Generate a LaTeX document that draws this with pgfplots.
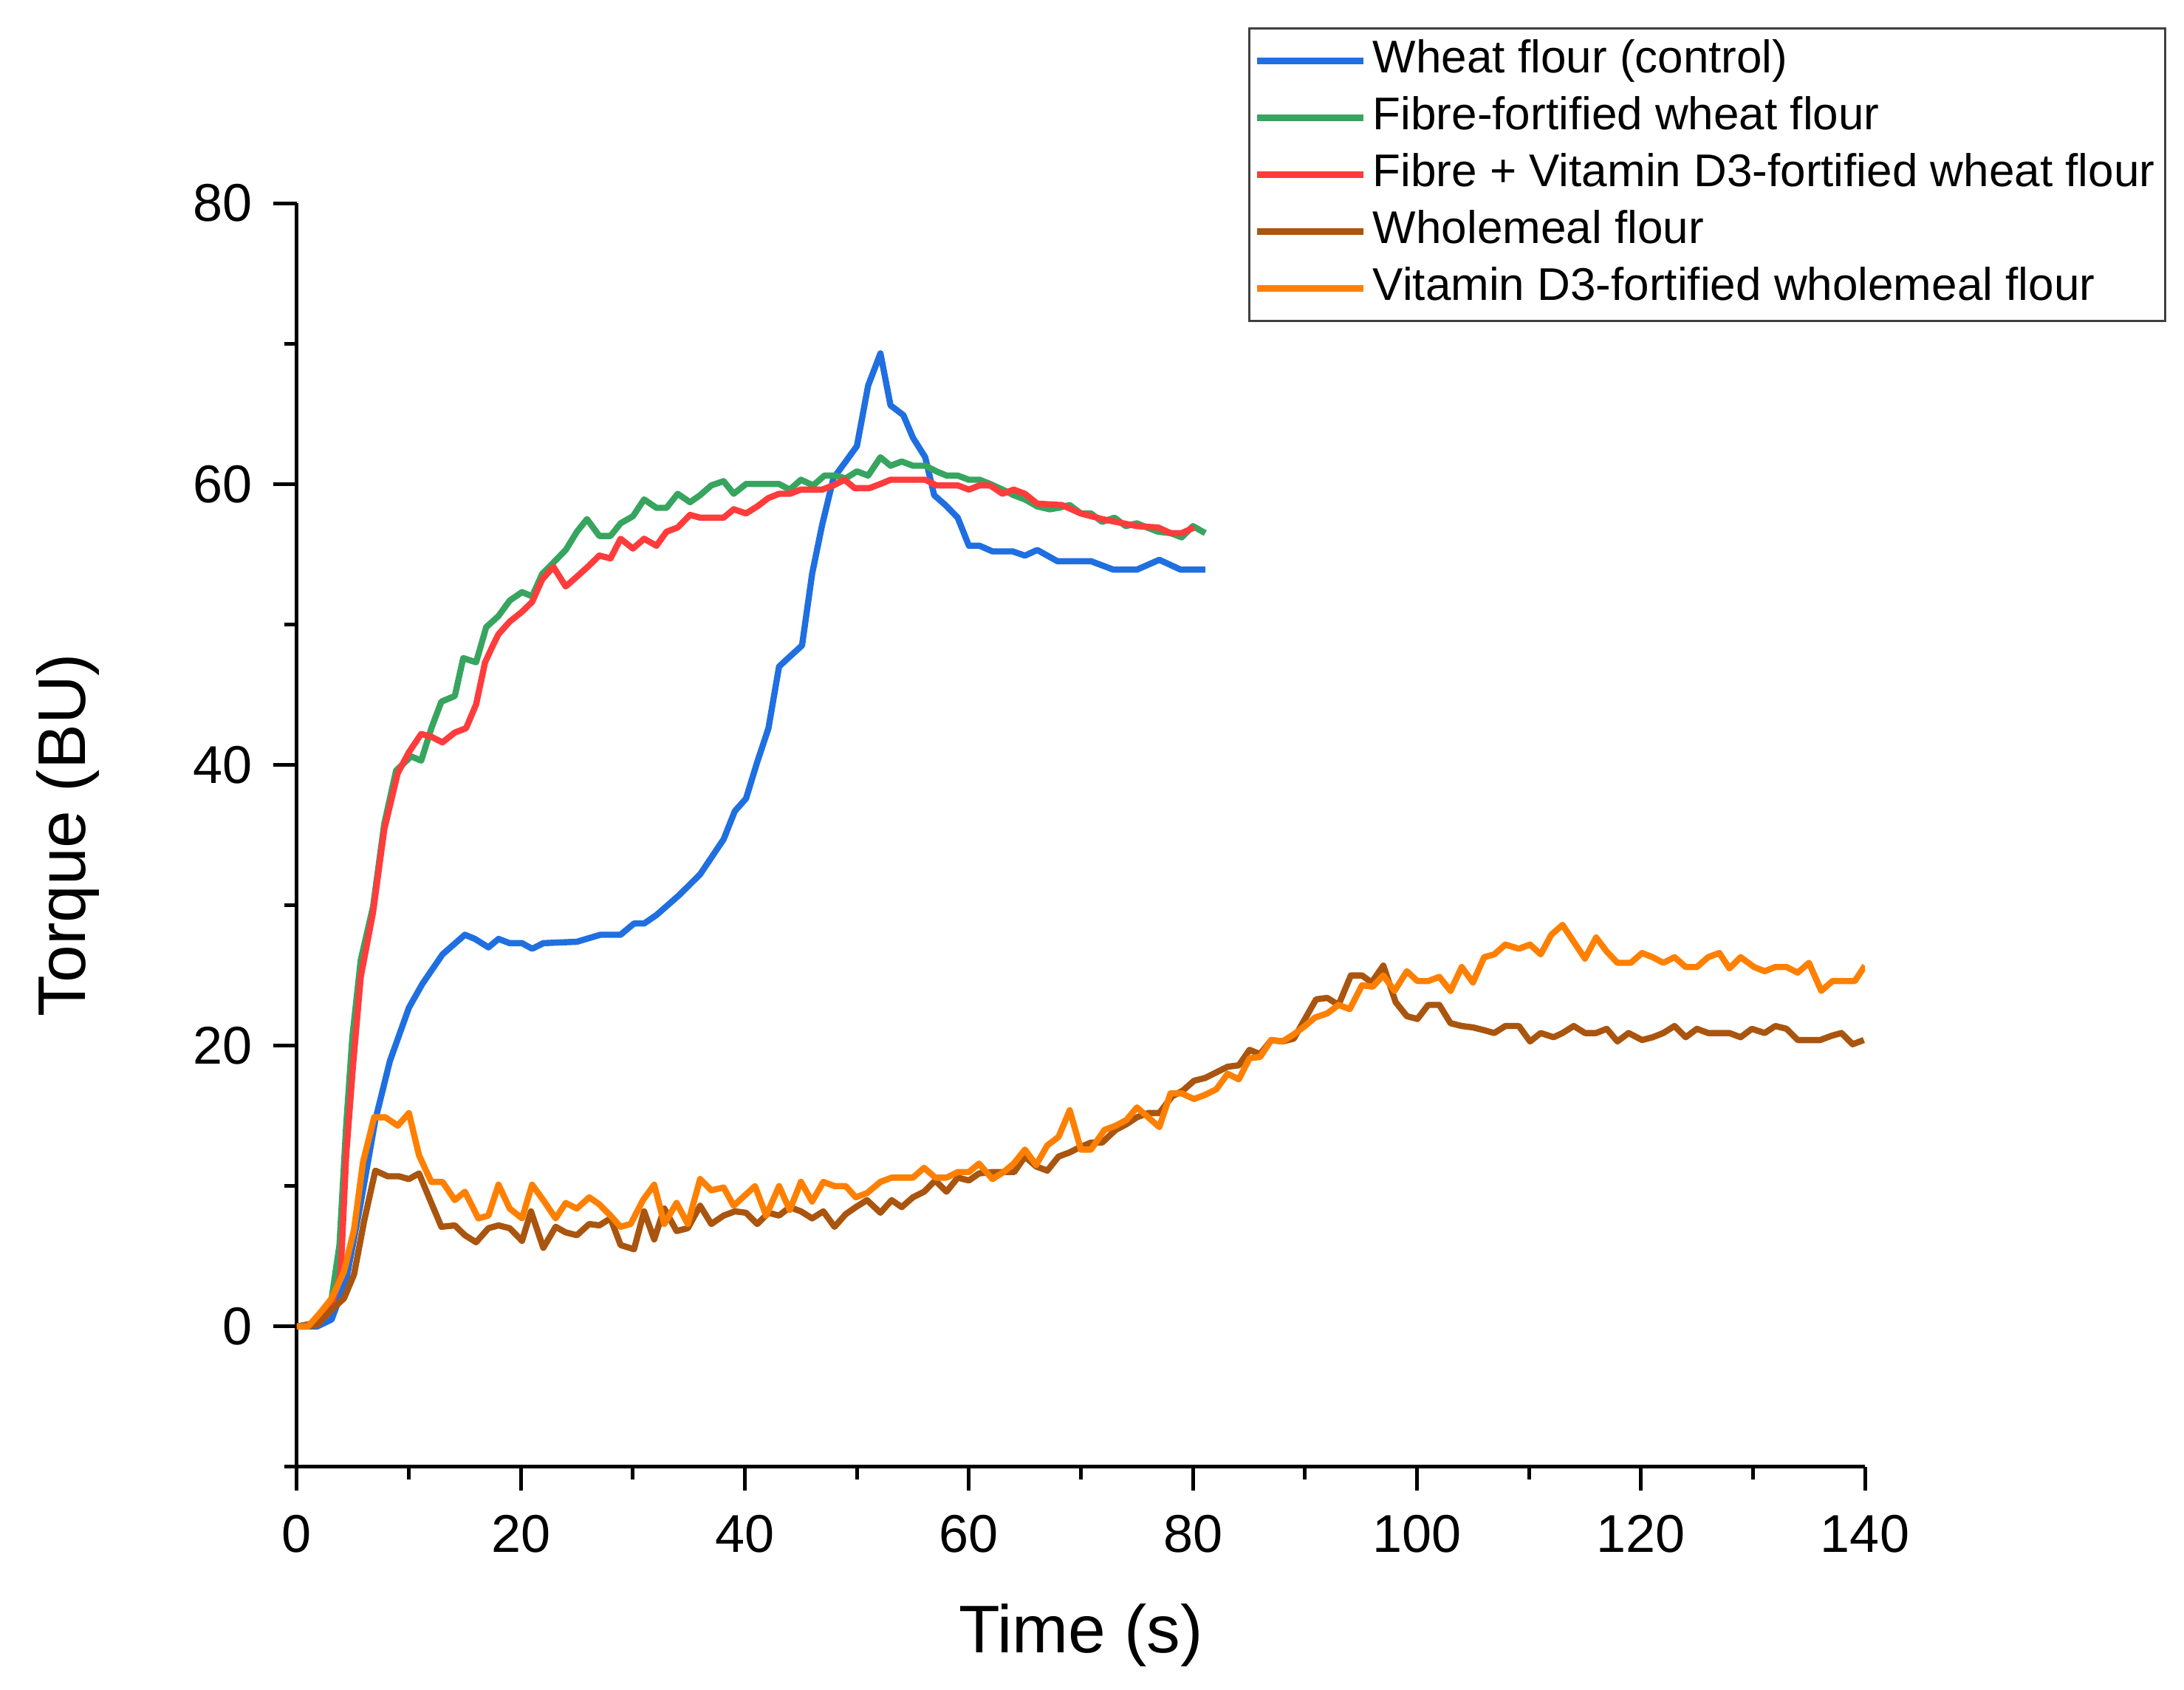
\documentclass[border=0pt]{standalone}
\usepackage{fontspec}
\setmainfont{Liberation Sans}
\usepackage{pgfplots}
\usepackage{pgfplotstable}
\pgfplotsset{compat=1.18}
\definecolor{cblue}{RGB}{31,111,225}
\definecolor{cgreen}{RGB}{55,165,95}
\definecolor{cred}{RGB}{255,60,60}
\definecolor{cbrown}{RGB}{170,85,15}
\definecolor{corange}{RGB}{255,128,0}

\pgfplotstableread{
t v
0 0
1.8 0
3.1 0.5
4.4 3.3
5.7 8.8
7.0 14.7
8.3 18.9
10.0 22.7
11.2 24.4
13.0 26.5
15.0 27.9
15.9 27.6
17.1 27.0
18.0 27.6
19.0 27.3
20.1 27.3
21.0 26.9
22.0 27.3
25.0 27.4
27.1 27.9
28.9 27.9
30.1 28.7
31.0 28.7
32.1 29.3
34.1 30.7
36.0 32.2
38.1 34.7
39.1 36.7
40.1 37.6
41.1 40.2
42.1 42.6
43.05 47.0
44.0 47.7
45.1 48.5
46.0 53.6
46.9 57.1
47.9 60.4
49.0 61.6
50.0 62.7
51.0 67.0
52.1 69.3
53.0 65.6
54.15 64.9
55.0 63.3
56.1 61.9
56.9 59.2
57.9 58.5
59.0 57.6
60.0 55.6
60.95 55.6
62.1 55.2
63.9 55.2
65.0 54.9
66.1 55.3
67.9 54.5
70.9 54.5
72.9 53.9
75.0 53.9
77.0 54.6
78.9 53.9
81.1 53.9
}\wheat

\pgfplotstableread{
t v
0 0
1.8 0.3
3.1 2.0
3.8 5.8
4.4 14.3
4.95 20.6
5.7 26.1
6.8 29.9
7.8 35.8
8.86 39.6
10.2 40.6
11.1 40.3
12.0 42.6
12.9 44.5
14.1 44.9
14.85 47.6
16.0 47.3
16.9 49.8
18.0 50.6
19.0 51.7
20.1 52.3
21.0 52.0
21.9 53.6
22.9 54.4
24.0 55.3
25.0 56.6
25.9 57.5
27.0 56.3
28.0 56.3
28.9 57.2
30.0 57.7
31.0 58.9
32.1 58.3
33.0 58.3
34.0 59.3
35.1 58.7
36.0 59.2
37.0 59.9
38.1 60.2
39.0 59.3
40.1 60.0
43.05 60.0
44.0 59.6
45.0 60.3
46.1 59.9
47.1 60.6
48.0 60.6
49.0 60.4
50.0 60.9
51.0 60.6
52.1 61.9
53.0 61.3
54.0 61.6
55.0 61.3
56.1 61.3
57.1 60.9
58.0 60.6
59.0 60.6
60.0 60.3
60.95 60.3
61.9 60.0
63.0 59.6
64.0 59.2
65.0 58.9
66.1 58.4
67.2 58.2
68.0 58.3
69.0 58.5
70.0 57.9
70.9 57.9
71.9 57.3
73.0 57.6
74.0 57.0
75.0 57.2
75.9 56.9
76.9 56.6
78.0 56.5
79.0 56.2
80.0 57.0
81.1 56.5
}\fibre

\pgfplotstableread{
t v
0 0
1.8 0.2
3.1 1.6
3.9 3.7
4.4 12.2
5.0 18.5
5.7 24.9
6.8 29.5
7.8 35.4
9.0 39.4
10.0 40.9
11.1 42.2
12.0 42.0
13.0 41.6
14.1 42.3
15.1 42.6
16.0 44.3
16.8 47.3
17.5 48.5
18.0 49.3
19.0 50.2
20.1 50.9
21.0 51.6
21.9 53.2
22.9 54.1
24.0 52.7
25.0 53.4
26.1 54.2
27.0 54.9
28.0 54.7
28.9 56.1
30.0 55.4
31.0 56.1
32.1 55.6
33.0 56.6
34.0 56.9
35.1 57.8
36.0 57.6
38.1 57.6
39.0 58.2
40.1 57.9
41.1 58.4
42.1 59.0
43.05 59.3
44.0 59.3
45.0 59.6
46.9 59.6
47.9 59.9
48.9 60.3
49.8 59.7
51.1 59.7
52.1 60.0
53.0 60.3
56.1 60.3
57.1 59.9
59.0 59.9
60.0 59.6
60.95 59.9
61.9 59.9
63.0 59.3
64.0 59.6
65.0 59.3
66.1 58.6
68.3 58.5
70.0 57.9
71.9 57.5
75.0 57.0
76.9 56.9
78.0 56.5
79.0 56.5
80.1 56.9
}\fibrevit

\pgfplotstableread{
t v
0 0
1.8 0.1
3.1 1.2
4.2 2.0
5.1 3.7
6.0 7.5
7.0 11.1
8.1 10.7
9.1 10.7
10.0 10.5
10.9 10.9
12.0 8.8
12.9 7.1
14.1 7.2
15.0 6.5
16.0 6.0
17.1 7.0
18.0 7.2
19.0 7.0
20.1 6.1
20.9 8.2
22.0 5.6
23.1 7.1
24.0 6.7
25.0 6.5
26.1 7.3
27.0 7.2
28.0 7.7
28.9 5.8
30.1 5.5
31.0 8.2
31.9 6.2
32.8 8.4
33.9 6.8
34.9 7.0
36.0 8.6
37.0 7.3
38.1 7.9
39.1 8.2
40.1 8.1
41.1 7.3
42.1 8.1
43.05 7.9
44.0 8.5
45.0 8.2
46.0 7.7
47.0 8.2
48.0 7.1
49.0 8.0
49.9 8.5
50.9 9.0
52.1 8.1
53.1 9.0
54.0 8.5
55.0 9.2
56.0 9.6
57.0 10.4
58.0 9.6
59.0 10.6
60.0 10.4
60.9 10.9
62.1 11.0
64.05 11.0
65.0 12.1
66.0 11.4
67.0 11.1
68.0 12.1
69.0 12.4
70.0 12.8
70.9 13.1
71.9 13.1
73.1 14.0
74.05 14.4
75.0 14.9
76.0 15.2
77.0 15.2
78.15 16.4
79.1 16.8
80.1 17.5
81.1 17.7
82.1 18.1
83.1 18.5
84.1 18.6
85.05 19.7
86.0 19.4
87.0 20.4
88.0 20.3
89.0 20.5
90.0 21.9
91.0 23.3
92.0 23.4
93.0 22.9
94.1 25.0
95.1 25.0
95.95 24.5
97.0 25.7
98.1 23.1
99.1 22.1
100.05 21.9
101.0 22.9
102.0 22.9
103.0 21.6
104.0 21.4
105.0 21.3
106.0 21.1
106.9 20.9
107.9 21.4
109.1 21.4
110.1 20.3
111.05 20.9
112.2 20.6
113.0 20.9
114.0 21.4
115.0 20.9
116.0 20.9
116.95 21.2
117.9 20.3
118.9 20.9
120.1 20.4
121.05 20.6
122.0 20.9
123.0 21.4
124.0 20.6
125.0 21.2
126.0 20.9
127.9 20.9
128.9 20.6
129.9 21.2
131.05 20.9
132.0 21.4
133.0 21.2
134.0 20.4
136.0 20.4
137.0 20.7
137.9 20.9
138.9 20.1
139.9 20.4
}\wholemeal

\pgfplotstableread{
t v
0 0
1.0 0
2.1 1.0
3.1 2.0
4.2 3.9
5.1 6.9
5.9 11.7
6.9 14.9
7.9 14.9
9.0 14.3
10.0 15.2
10.9 12.2
12.0 10.3
13.0 10.3
14.1 9.0
15.0 9.6
16.2 7.7
17.1 7.9
18.0 10.1
19.0 8.4
20.1 7.7
21.0 10.1
22.0 9.0
23.1 7.7
24.0 8.8
25.0 8.4
26.1 9.2
27.0 8.7
28.0 7.9
28.9 7.1
29.8 7.3
30.9 9.0
31.9 10.1
32.8 7.3
33.9 8.8
34.9 7.3
36.0 10.5
37.0 9.7
38.1 9.9
39.0 8.6
40.9 10.0
41.9 7.9
43.05 10.0
44.0 8.3
45.0 10.3
46.0 8.9
47.0 10.3
48.0 10.0
49.0 10.0
49.9 9.2
50.9 9.5
52.1 10.3
53.1 10.6
55.0 10.6
56.0 11.3
57.0 10.6
58.0 10.6
59.0 11.0
60.0 11.0
60.9 11.6
62.1 10.5
63.1 11.0
64.0 11.6
65.0 12.6
66.0 11.5
67.0 12.9
68.0 13.5
69.0 15.4
70.0 12.6
70.9 12.6
72.1 14.0
73.1 14.3
74.05 14.7
75.0 15.6
76.0 14.9
77.0 14.2
78.0 16.6
79.0 16.6
80.1 16.2
81.1 16.5
82.1 16.9
83.1 18.0
84.1 17.6
85.05 19.1
86.0 19.2
87.0 20.4
88.0 20.3
89.0 20.8
90.0 21.4
90.9 22.0
92.0 22.3
93.0 22.9
94.0 22.6
95.1 24.3
96.05 24.2
97.0 25.0
98.0 23.9
99.1 25.3
100.05 24.6
101.0 24.6
102.0 24.9
103.0 23.9
104.0 25.6
105.0 24.5
106.0 26.3
106.9 26.5
107.9 27.2
109.1 26.9
110.1 27.2
111.05 26.5
112.0 27.9
113.0 28.6
114.0 27.4
115.0 26.2
116.0 27.7
116.95 26.7
117.9 25.9
119.1 25.9
120.1 26.6
121.05 26.3
122.0 25.9
123.0 26.3
124.0 25.6
125.0 25.6
126.0 26.3
127.0 26.6
127.9 25.5
128.9 26.3
130.1 25.6
131.05 25.3
132.0 25.6
133.0 25.6
134.0 25.2
135.0 25.9
136.1 23.9
137.1 24.6
139.1 24.6
140.0 25.7
}\wholemealvit

\begin{document}
\begin{tikzpicture}
\useasboundingbox (-100.5pt,-75.5pt) rectangle (638.75pt,496.5pt);
\begin{axis}[
  at={(0pt,0pt)}, anchor=south west,
  scale only axis, width=530.75pt, height=427.75pt,
  xmin=0, xmax=140, ymin=-10, ymax=80,
  axis x line*=bottom, axis y line*=left,
  axis line style={-, line width=1.25pt, black},
  xtick={0,20,...,140}, minor xtick={10,30,...,130},
  ytick={0,20,...,80}, minor ytick={-10,10,...,70},
  tick align=outside,
  major tick length=8pt, minor tick length=4.3pt,
  every tick/.style={black, line width=1.25pt},
  /pgf/number format/assume math mode=true,
  ticklabel style={font=\fontsize{18}{21.6}\selectfont},
  xticklabel style={anchor=base, inner sep=0pt, yshift=-21pt},
  yticklabel style={anchor=east, inner sep=0pt, xshift=-7pt},
  xlabel={Time (s)}, ylabel={Torque (BU)},
  label style={font=\fontsize{22.8}{27}\selectfont, inner sep=0pt},
  xlabel style={at={(axis description cs:0.5,-0.14682)}, anchor=base},
  ylabel style={at={(axis description cs:-0.13472,0.5)}, anchor=base},
  legend cell align=left,
  legend style={at={(rel axis cs:0.6067,1.1392)}, anchor=north west,
    draw=black!75, line width=0.8pt, fill=white,
    inner xsep=1.5pt, inner ysep=1.5pt,
    font=\fontsize{15.5}{18}\selectfont, row sep=0.25pt,
    nodes={inner sep=2pt, text height=11.5pt, text depth=3.5pt}},
  legend image code/.code={\draw[#1, line width=2.3pt] (0pt,0pt) -- (36pt,0pt);},
  every axis plot/.append style={line width=2.1pt, line join=round},
]
\addplot[cblue] table[x=t,y=v]{\wheat};
\addlegendentry{Wheat flour (control)}
\addplot[cgreen] table[x=t,y=v]{\fibre};
\addlegendentry{Fibre-fortified wheat flour}
\addplot[cred] table[x=t,y=v]{\fibrevit};
\addlegendentry{Fibre + Vitamin D3-fortified wheat flour}
\addplot[cbrown] table[x=t,y=v]{\wholemeal};
\addlegendentry{Wholemeal flour}
\addplot[corange] table[x=t,y=v]{\wholemealvit};
\addlegendentry{Vitamin D3-fortified wholemeal flour}
\end{axis}
\end{tikzpicture}
\end{document}
